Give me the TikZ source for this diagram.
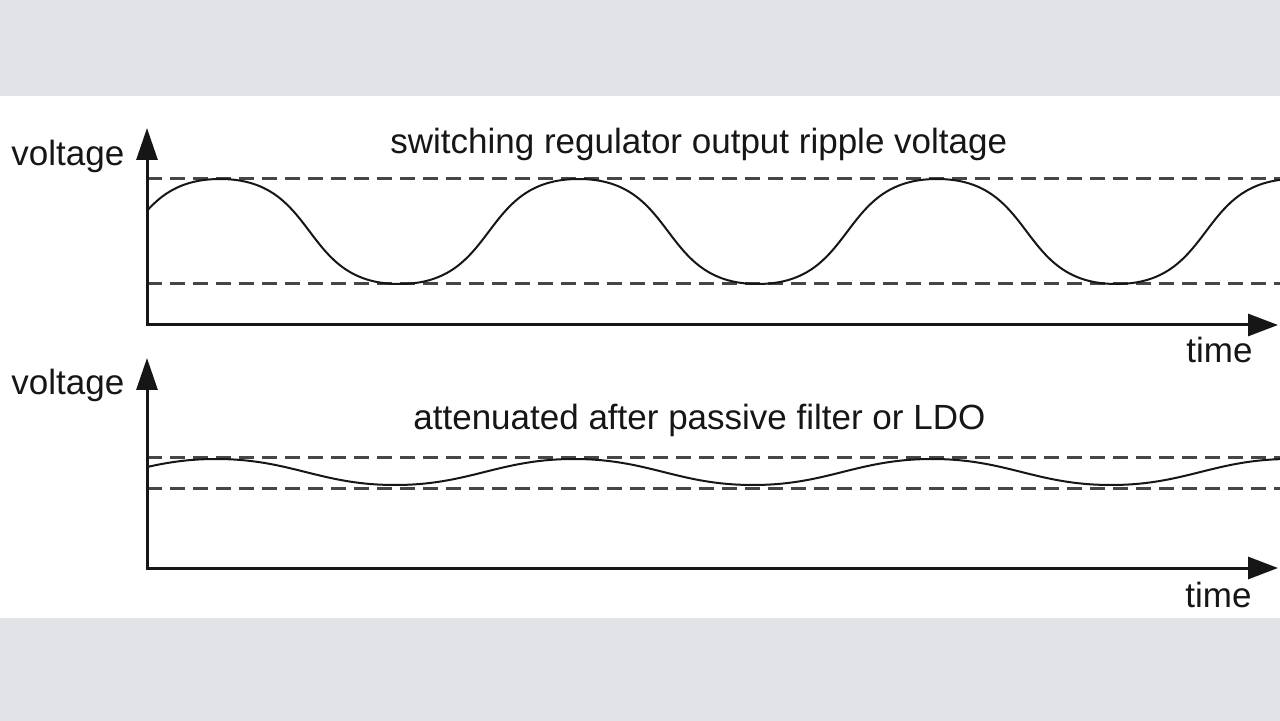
\documentclass[tikz,border=0pt]{standalone}
\usepackage{fontspec}
\setmainfont{Liberation Sans}
\usetikzlibrary{arrows.meta}
\definecolor{band}{RGB}{225,227,230}
\definecolor{ink}{RGB}{22,22,22}
\definecolor{dashgray}{RGB}{70,70,70}
\begin{document}
\begin{tikzpicture}[x=0.5pt,y=-0.5pt,
  axis/.style={draw=ink,line width=1.5pt,line join=miter},
  axisarrows/.style={{Triangle[length=16pt,width=10.5pt]}-{Triangle[length=15pt,width=11pt]}},
  lbl/.style={inner sep=0pt,anchor=base west,font=\fontsize{17.5}{21}\selectfont,text=ink},
  wave/.style={draw=ink,line width=1pt},
  guide/.style={draw=dashgray,line width=1.5pt,dash pattern=on 7.5pt off 4pt}]
\useasboundingbox (0,0) rectangle (1280,721);
\fill[band] (0,0) rectangle (1280,721);
\fill[white] (0,96) rectangle (1280,618);

% ---------- top graph ----------
\coordinate (o1) at (147,325);
\coordinate (ytop1) at (147,128);
\coordinate (xend1) at (1278,325);
\coordinate (hi1s) at (147,179);
\coordinate (hi1e) at (1280,179);
\coordinate (lo1s) at (147,284);
\coordinate (lo1e) at (1280,284);
\draw[guide] (hi1s) -- (hi1e);
\draw[guide] (lo1s) -- (lo1e);
\begin{scope}
  \clip (147,0) rectangle (1280,721);
  \draw[wave] (40.75,284)
    foreach \i [evaluate=\i as \xa using {40.75+2*\i*179.25}] in {0,1,2,3} {
      .. controls (\xa+100,284) and (\xa+79.25,179) .. (\xa+179.25,179)
      .. controls (\xa+279.25,179) and (\xa+258.5,284) .. (\xa+358.5,284)
    };
\end{scope}
\draw[axis,axisarrows] (ytop1) -- (o1) -- (xend1);
\node[lbl] (title1) at (390,154) {switching regulator output ripple voltage};
\node[lbl] (ylab1) at (11,166) {voltage};
\node[lbl] (xlab1) at (1186,363) {time};

% ---------- bottom graph ----------
\coordinate (o2) at (147,568);
\coordinate (ytop2) at (147,358);
\coordinate (xend2) at (1278,568);
\coordinate (hi2s) at (147,458);
\coordinate (hi2e) at (1280,458);
\coordinate (lo2s) at (147,489);
\coordinate (lo2e) at (1280,489);
\draw[guide] (hi2s) -- (hi2e);
\draw[guide] (lo2s) -- (lo2e);
\begin{scope}
  \clip (147,0) rectangle (1280,721);
  \draw[wave] (37,485)
    foreach \i [evaluate=\i as \xa using {37+2*\i*179}] in {0,1,2,3} {
      .. controls (\xa+75,485) and (\xa+104,459) .. (\xa+179,459)
      .. controls (\xa+254,459) and (\xa+283,485) .. (\xa+358,485)
    };
\end{scope}
\draw[axis,axisarrows] (ytop2) -- (o2) -- (xend2);
\node[lbl] (title2) at (413,430) {attenuated after passive filter or LDO};
\node[lbl] (ylab2) at (11,395) {voltage};
\node[lbl] (xlab2) at (1185,607) {time};
\end{tikzpicture}
\end{document}
